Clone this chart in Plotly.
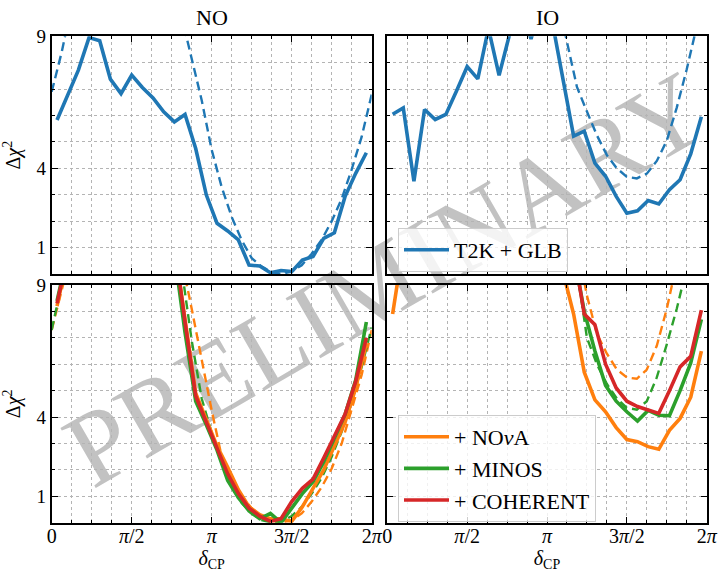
import plotly.graph_objects as go

FONT = "Liberation Serif"

# x grids (degrees of delta_CP)
deg30 = [6, 18, 30, 42, 54, 66, 78, 90, 102, 114, 126, 138, 150, 162, 174,
         186, 198, 210, 222, 234, 246, 258, 270, 282, 294, 306, 318, 330, 342, 354]
deg33 = [0, 11.25, 22.5, 33.75, 45, 56.25, 67.5, 78.75, 90, 101.25, 112.5, 123.75,
         135, 146.25, 157.5, 168.75, 180, 191.25, 202.5, 213.75, 225, 236.25, 247.5,
         258.75, 270, 281.25, 292.5, 303.75, 315, 326.25, 337.5, 348.75, 360]

x_tickvals = [0, 90, 180, 270, 360]
x_ticktext = ["0", "<i>π</i>/2", "<i>π</i>", "3<i>π</i>/2", "2<i>π</i>"]
y_tickvals = [1, 4, 9]
y_ticktext = ["1", "4", "9"]

# ---- Top row: T2K + GLB ----
no_t2k = [5.83, 6.75, 7.72, 8.95, 8.83, 7.38, 6.83, 7.53, 7.06, 6.67, 6.14, 5.76, 6.04, 4.75, 2.99,
          1.92, 1.63, 1.29, 0.34, 0.30, 0.05, 0.13, 0.09, 0.53, 0.66, 1.35, 1.56, 2.93, 3.81, 4.59]
no_t2k_dash = [6.9, 8.4, 10.2, 11.8, 13.2, 14.2, 14.9, 15.2, 15.1, 14.7, 13.9, 12.8, 11.3, 9.7, 8.15,
               6.58, 4.7, 3.29, 2.16, 1.28, 0.6, 0.28, 0.07, 0.0, 0.1, 0.33, 0.77, 1.3, 2.0, 2.85,
               3.96, 5.2, 6.8]
io_t2k = [6.05, 6.29, 3.51, 6.23, 5.85, 6.04, 6.93, 7.85, 7.39, 9.3, 7.52, 9.1, 10.2, 8.9, 10.3,
          9.54, 7.38, 5.22, 5.41, 4.2, 3.7, 2.94, 2.3, 2.39, 2.78, 2.65, 3.19, 3.57, 4.55, 5.95]
io_t2k_dash = [12.0, 12.6, 13.2, 13.8, 14.3, 14.7, 15.0, 15.2, 15.3, 15.3, 15.2, 15.0, 14.7, 14.3,
               13.6, 12.8, 11.8, 10.5, 8.8, 7.08, 6.15, 5.25, 4.5, 4.0, 3.68, 3.62, 3.8, 4.28,
               5.05, 6.3, 7.75, 9.3, 11.0]

# ---- Bottom row: + NOvA, + MINOS, + COHERENT ----
no_nova = [8.2, 10.5, 12.0, 13.0, 13.5, 13.8, 13.8, 13.5, 13.0, 12.4, 11.6, 10.5, 7.8, 4.9, 3.9,
           2.9, 2.1, 1.25, 0.6, 0.3, 0.15, 0.15, 0.05, 0.6, 1.3, 2.0, 2.9, 3.8, 5.1, 6.8]
no_minos = [8.4, 10.5, 12.0, 13.0, 13.5, 13.8, 13.8, 13.5, 13.0, 12.4, 11.4, 10.2, 7.2, 4.6, 3.7,
            2.75, 1.6, 0.95, 0.45, 0.15, 0.35, 0.0, 0.55, 1.1, 1.55, 2.3, 3.2, 4.1, 5.4, 7.6]
no_coh = [8.3, 10.5, 12.0, 13.0, 13.5, 13.8, 13.8, 13.5, 13.0, 12.4, 11.6, 10.6, 7.6, 4.8, 3.8,
          2.8, 1.85, 1.1, 0.55, 0.25, 0.05, 0.15, 0.8, 1.3, 1.65, 2.45, 3.3, 4.1, 5.35, 7.0]
no_nova_dash = [7.3, 8.9, 10.4, 11.8, 13.0, 13.8, 14.3, 14.5, 14.4, 14.0, 13.3, 12.4, 11.2, 9.95,
                8.1, 6.2, 4.25, 2.5, 1.6, 1.0, 0.55, 0.25, 0.07, 0.0, 0.1, 0.35, 0.8, 1.35, 2.05,
                3.0, 4.3, 5.6, 7.3]
no_minos_dash = [7.3, 9.2, 10.8, 12.2, 13.3, 14.0, 14.5, 14.6, 14.4, 14.0, 13.3, 12.3, 11.0, 9.6,
                 6.9, 4.7, 3.4, 2.4, 1.35, 0.75, 0.35, 0.1, 0.0, 0.05, 0.25, 0.6, 1.1, 1.7, 2.5,
                 3.45, 4.6, 5.9, 7.4]

io_nova = [7.9, 10.5, 12.0, 13.0, 13.8, 14.3, 14.6, 14.7, 14.6, 14.3, 13.9, 13.3, 12.6, 11.8, 11.0,
           10.3, 9.5, 7.9, 5.7, 4.65, 4.2, 3.6, 3.15, 3.07, 2.88, 2.78, 3.5, 3.95, 4.75, 6.5]
io_minos = [11.0, 11.8, 12.5, 13.2, 13.8, 14.3, 14.6, 14.8, 14.8, 14.6, 14.3, 13.9, 13.3, 12.6, 11.8,
            11.0, 10.5, 10.2, 8.0, 6.5, 5.2, 4.6, 4.2, 3.85, 4.25, 4.07, 4.05, 5.0, 6.05, 7.7]
io_coh = [11.0, 11.8, 12.5, 13.2, 13.8, 14.3, 14.6, 14.8, 14.8, 14.6, 14.3, 13.9, 13.3, 12.6, 11.8,
          11.0, 10.5, 10.3, 7.9, 7.5, 6.0, 5.1, 4.6, 4.4, 4.27, 4.14, 5.0, 5.9, 6.3, 8.05]
io_nova_dash = [12.0, 12.8, 13.5, 14.1, 14.6, 15.0, 15.3, 15.5, 15.6, 15.6, 15.5, 15.3, 15.0, 14.6,
                14.1, 13.5, 12.8, 12.4, 12.0, 10.6, 8.6, 7.15, 6.4, 5.8, 5.5, 5.45, 5.8, 6.7, 8.1,
                9.9, 11.8, 13.5, 15.0]
io_minos_dash = [12.2, 12.9, 13.6, 14.2, 14.7, 15.1, 15.4, 15.6, 15.7, 15.7, 15.6, 15.4, 15.1, 14.7,
                 14.2, 13.6, 12.9, 12.2, 11.5, 9.6, 7.0, 6.0, 5.25, 4.7, 4.35, 4.28, 4.6, 5.5, 6.75,
                 8.1, 9.6, 11.2, 12.8]

BLUE = "#1f77b4"
ORANGE = "#ff7f0e"
GREEN = "#2ca02c"
RED = "#d62728"
SOLID_W = 3.6
DASH_W = 2.4
DASH = "9px,5px"

fig = go.Figure()

def add(x, y, color, ax, dashed=False, name=None, legend=None):
    fig.add_trace(go.Scatter(
        x=x, y=y, mode="lines",
        line=dict(color=color, width=DASH_W if dashed else SOLID_W, dash=DASH if dashed else "solid"),
        xaxis="x" + ("" if ax == 1 else str(ax)), yaxis="y" + ("" if ax == 1 else str(ax)),
        name=name if name else "", showlegend=bool(name), legend=legend if legend else "legend",
        hoverinfo="skip"))

# top-left NO
add(deg33, no_t2k_dash, BLUE, 1, dashed=True)
add(deg30, no_t2k, BLUE, 1)
# top-right IO
add(deg33, io_t2k_dash, BLUE, 2, dashed=True)
add(deg30, io_t2k, BLUE, 2, name="T2K + GLB", legend="legend")
# bottom-left NO
add(deg33, no_nova_dash, ORANGE, 3, dashed=True)
add(deg33, no_minos_dash, GREEN, 3, dashed=True)
add(deg30, no_nova, ORANGE, 3)
add(deg30, no_minos, GREEN, 3)
add(deg30, no_coh, RED, 3)
# bottom-right IO
add(deg33, io_nova_dash, ORANGE, 4, dashed=True)
add(deg33, io_minos_dash, GREEN, 4, dashed=True)
add(deg30, io_nova, ORANGE, 4, name="+ NO<i>ν</i>A", legend="legend2")
add(deg30, io_minos, GREEN, 4, name="+ MINOS", legend="legend2")
add(deg30, io_coh, RED, 4, name="+ COHERENT", legend="legend2")

W, H = 719, 575

def px(x):
    return x / W

def py(y):
    return 1 - y / H

xl = [px(51.7), px(371.7)]
xr = [px(387.3), px(706.7)]
yt = [py(274.0), py(36.3)]
yb = [py(522.7), py(285.0)]

GRID = "#b4b4b4"
xtickfont = dict(family=FONT, size=20, color="black")
ytickfont = dict(family=FONT, size=19, color="black")

def xaxis(domain, anchor, labels, title=None):
    d = dict(domain=domain, anchor=anchor, range=[0, 360],
             tickvals=x_tickvals, ticktext=x_ticktext, showticklabels=labels,
             ticks="inside", ticklen=6, tickwidth=1.2, tickcolor="black",
             showline=True, linewidth=2, linecolor="black", mirror="allticks",
             showgrid=True, gridcolor=GRID, griddash="dot", gridwidth=1,
             zeroline=False, tickfont=xtickfont, automargin=False, ticklabelstandoff=-6,
             minor=dict(tick0=0, dtick=22.5, ticks="inside", ticklen=3, tickcolor="black",
                        showgrid=True, gridcolor=GRID, griddash="dot", gridwidth=1))
    if title:
        d["title"] = dict(text=title, font=dict(family=FONT, size=20, color="black"), standoff=0)
    return d

def yaxis(domain, anchor, labels, title=None):
    d = dict(domain=domain, anchor=anchor, range=[0, 9],
             tickvals=y_tickvals, ticktext=y_ticktext, showticklabels=labels,
             ticks="inside", ticklen=6, tickwidth=1.2, tickcolor="black",
             showline=True, linewidth=2, linecolor="black", mirror="allticks",
             showgrid=True, gridcolor=GRID, griddash="dot", gridwidth=1,
             zeroline=False, tickfont=ytickfont, automargin=False,
             minor=dict(tick0=0, dtick=1, ticks="inside", ticklen=3, tickcolor="black",
                        showgrid=True, gridcolor=GRID, griddash="dot", gridwidth=1))
    if title:
        d["title"] = dict(text=title, font=dict(family=FONT, size=20, color="black"), standoff=12)
    return d

ytitle = "Δ<i>χ</i><sup>2</sup>"
xtitle = "<i>δ</i><sub>CP</sub>"

fig.update_layout(
    width=W, height=H,
    margin=dict(l=0, r=0, t=0, b=0),
    paper_bgcolor="white", plot_bgcolor="rgba(0,0,0,0)",
    font=dict(family=FONT, color="black"),
    xaxis=xaxis(xl, "y", False),
    yaxis=yaxis(yt, "x", True, ytitle),
    xaxis2=xaxis(xr, "y2", False),
    yaxis2=yaxis(yt, "x2", False),
    xaxis3=xaxis(xl, "y3", True, xtitle),
    yaxis3=yaxis(yb, "x3", True, ytitle),
    xaxis4=xaxis(xr, "y4", True, xtitle),
    yaxis4=yaxis(yb, "x4", False),
    legend=dict(x=px(398), y=py(228), xanchor="left", yanchor="top", itemwidth=45,
                bgcolor="rgba(255,255,255,0.8)", bordercolor="#cccccc", borderwidth=1,
                font=dict(family=FONT, size=22, color="black")),
    legend2=dict(x=px(398), y=py(415), xanchor="left", yanchor="top", itemwidth=45,
                 bgcolor="rgba(255,255,255,0.8)", bordercolor="#cccccc", borderwidth=1,
                 font=dict(family=FONT, size=22, color="black")),
    annotations=[
        dict(text="NO", x=(xl[0] + xl[1]) / 2, y=py(18), xref="paper", yref="paper",
             xanchor="center", yanchor="middle",
             showarrow=False, font=dict(family=FONT, size=22, color="black")),
        dict(text="IO", x=(xr[0] + xr[1]) / 2, y=py(18), xref="paper", yref="paper",
             xanchor="center", yanchor="middle",
             showarrow=False, font=dict(family=FONT, size=22, color="black")),
    ],
    shapes=[
        dict(type="rect", xref="paper", yref="paper", layer="below",
             x0=px(60), x1=px(700), y0=py(500), y1=py(38),
             line=dict(width=0), fillcolor="rgba(0,0,0,0)",
             label=dict(text="PRELIMINARY", textangle=-30, textposition="middle center",
                        font=dict(family=FONT, size=106, color="#c2c2c2"))),
    ],
)

fig.write_html("out.html", post_script="document.body.style.margin='0';",
               config={"displayModeBar": False})
